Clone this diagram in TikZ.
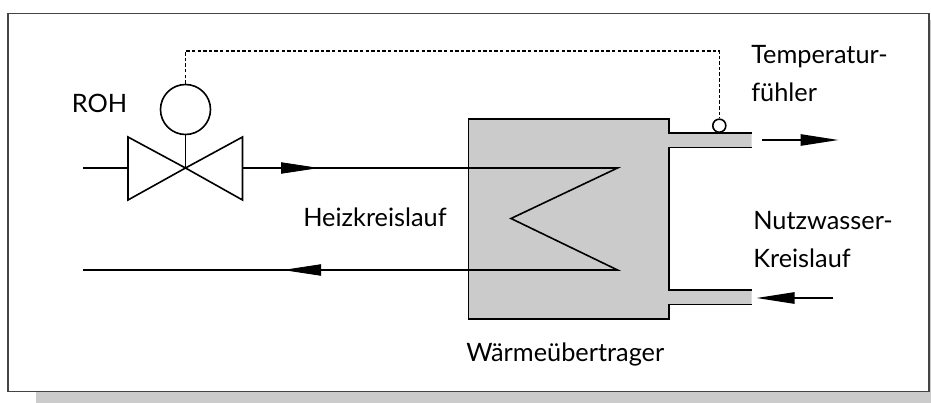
\documentclass[tikz,border=0pt]{standalone}
\usepackage{fontspec}
\setmainfont{Lato}
\usetikzlibrary{arrows.meta}
\definecolor{panelgray}{HTML}{CBCBCB}
\definecolor{framegray}{HTML}{444444}
\tikzset{
  pipeline/.style={line width=1.2pt,black},
  fillgray/.style={fill=panelgray,draw=none},
  flowtip/.style={-{Triangle[length=28.5pt,width=8.5pt,fill=black]},line width=0.6pt,shorten >=0pt},
  label/.style={anchor=base west,inner sep=0pt,font=\fontsize{19pt}{22pt}\selectfont,text=black},
  sensorline/.style={line width=0.8pt,dash pattern=on 2.6pt off 1.6pt},
}
\begin{document}
\begin{tikzpicture}[x=0.75pt,y=-0.75pt]
\useasboundingbox (0,0) rectangle (931,403);
% shadow
\fill[panelgray] (36,380) rectangle (931,403);
\fill[panelgray] (927,20) rectangle (931,403);
\draw[line width=1.1pt,draw=framegray,fill=white] (8,13.5) rectangle (929,391.5);
% exchanger body and pipes
\fill[fillgray] (468.5,119) -- (669,119) -- (669,133) -- (751.5,133) -- (751.5,147.5) -- (669,147.5)
  -- (669,290) -- (751.5,290) -- (751.5,304.5) -- (669,304.5) -- (669,319) -- (468.5,319) -- cycle;
\draw[pipeline] (751.5,133) -- (669,133) -- (669,119) -- (468.5,119) -- (468.5,319) -- (669,319) -- (669,304.5) -- (751.5,304.5);
\draw[pipeline] (751.5,147.5) -- (669,147.5) -- (669,290) -- (751.5,290);
% coordinates
\coordinate (vc) at (185.5,168);
\coordinate (vl) at (128,168);
\coordinate (vr) at (242.5,168);
\coordinate (inlet) at (83,168);
\coordinate (coilA) at (617.5,168);
\coordinate (coilB) at (511,218.5);
\coordinate (coilC) at (617.5,270);
\coordinate (outlet) at (83,270);
\coordinate (sensorCorner) at (719.3,51);
\coordinate (actuatorCorner) at (185.5,51);
\node[circle,draw=black,line width=1.2pt,fill=white,minimum size=37.5pt,inner sep=0pt] (act) at (185.5,109.5) {};
\node[circle,draw=black,line width=1.2pt,fill=white,minimum size=9.8pt,inner sep=0pt] (sensor) at (719.3,125.7) {};
% valve
\draw[pipeline,line join=miter] (vc) -- (128,137) -- (128,200) -- cycle;
\draw[pipeline,line join=miter] (vc) -- (242.5,137) -- (242.5,200) -- cycle;
\draw[pipeline] (act.south) -- (vc);
\draw[pipeline] (inlet) -- (vl);
\draw[pipeline] (vr) -- (coilA) -- (coilB) -- (coilC) -- (outlet);
% mid-line arrowheads
\coordinate (a1) at (280,168); \coordinate (a2) at (319,168);
\coordinate (a3) at (322,270); \coordinate (a4) at (283,270);
\draw[flowtip] (a1) -- (a2);
\draw[flowtip] (a3) -- (a4);
% outer flow arrows
\coordinate (b1) at (762,140); \coordinate (b2) at (838.5,140);
\coordinate (c1) at (833,298); \coordinate (c2) at (756.5,298);
\draw[flowtip,line width=1.2pt] (b1) -- (b2);
\draw[flowtip,line width=1.2pt] (c1) -- (c2);
% sensor line
\draw[sensorline] (act.north) -- (actuatorCorner) -- (sensorCorner) -- (sensor.north);
% labels
\node[label] (roh) at (71.5,112.3) {ROH};
\node[label] (heiz) at (303,226) {Heizkreislauf};
\node[label] (waerme) at (466,361.7) {Wärmeübertrager};
\node[label] (temp1) at (751,64) {Temperatur-};
\node[label] (temp2) at (751,102) {fühler};
\node[label] (nutz1) at (753,229.7) {Nutzwasser-};
\node[label] (nutz2) at (753,267.7) {Kreislauf};
\end{tikzpicture}
\end{document}
